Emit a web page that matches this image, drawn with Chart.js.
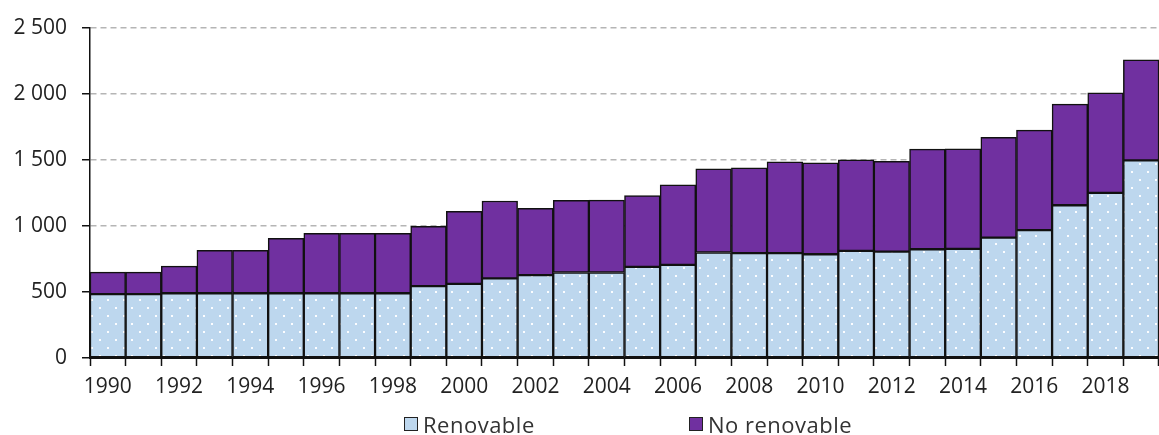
<!DOCTYPE html>
<html>
<head>
<meta charset="utf-8">
<script src="https://cdn.jsdelivr.net/npm/chart.js@4/dist/chart.umd.min.js"></script>
<style>
  body { margin: 0; background: #fff; }
  #wrap { position: relative; width: 1159px; height: 435px; }
  .lg { position: absolute; top: 412px; height: 24px; display: flex; align-items: center;
        font: 22px "Open Sans", sans-serif; letter-spacing: 0.5px; color: #333; line-height: 24px; }
  .lg span.box { width: 14px; height: 14px; border: 1px solid #222; margin-right: 5px; box-sizing: border-box; }
</style>
</head>
<body>
<div id="wrap">
  <canvas id="energyChart"></canvas>
  <div class="lg" style="left:404px"><span class="box" style="background:#bdd7ee"></span>Renovable</div>
  <div class="lg" style="left:689px"><span class="box" style="background:#7030a0"></span>No renovable</div>
</div>
<script>
const years = ['1990','1991','1992','1993','1994','1995','1996','1997','1998','1999',
  '2000','2001','2002','2003','2004','2005','2006','2007','2008','2009',
  '2010','2011','2012','2013','2014','2015','2016','2017','2018','2019'];

// renewable part (bottom of stack)
const renovable = [483, 483, 490, 490, 490, 490, 490, 490, 490, 544,
  561, 602, 627, 647, 647, 690, 705, 798, 793, 793,
  785, 810, 805, 823, 826, 911, 967, 1156, 1249, 1495];

// non-renewable part (top of stack)
const noRenovable = [167, 167, 205, 325, 325, 416, 454, 454, 454, 453,
  549, 586, 506, 546, 548, 539, 606, 634, 646, 692,
  692, 690, 683, 758, 757, 758, 757, 765, 757, 761];

const yTicks = [0, 500, 1000, 1500, 2000, 2500];

// light blue fill with small white dots
function dotPattern() {
  const c = document.createElement('canvas');
  c.width = 16; c.height = 16;
  const g = c.getContext('2d');
  g.fillStyle = '#bdd7ee';
  g.fillRect(0, 0, 16, 16);
  g.fillStyle = 'rgba(255,255,255,0.95)';
  g.fillRect(3, 3, 2, 2);
  g.fillRect(11, 11, 2, 2);
  return g.createPattern(c, 'repeat');
}

function fmt(v) {
  return String(v).replace(/\B(?=(\d{3})+(?!\d))/g, ' ');
}

const tickFont = { family: '"Open Sans", sans-serif', size: 21 };

const ctx = document.getElementById('energyChart').getContext('2d');
new Chart(ctx, {
  type: 'bar',
  data: {
    labels: years,
    datasets: [{
      label: 'Renovable',
      data: renovable,
      backgroundColor: dotPattern(),
      borderColor: '#111',
      borderWidth: 1.5,
      borderSkipped: false,
      barPercentage: 1,
      categoryPercentage: 1
    }, {
      label: 'No renovable',
      data: noRenovable,
      backgroundColor: '#7030a0',
      borderColor: '#111',
      borderWidth: 1.5,
      borderSkipped: false,
      barPercentage: 1,
      categoryPercentage: 1
    }]
  },
  options: {
    responsive: true,
    maintainAspectRatio: false,
    animation: false,
    layout: { padding: { top: 15, right: 0, bottom: 38, left: 0 } },
    scales: {
      x: {
        stacked: true,
        offset: true,
        grid: { offset: true, drawOnChartArea: false, drawTicks: true, tickLength: 8, tickColor: '#111', tickWidth: 1.5 },
        border: { color: '#111', width: 2 },
        ticks: {
          autoSkip: false,
          maxRotation: 0,
          padding: 8,
          font: tickFont,
          color: '#222',
          callback: function (v, i) { return i % 2 === 0 ? this.getLabelForValue(v) : ''; }
        },
        afterFit: s => { s.height = 39; }
      },
      y: {
        stacked: true,
        min: 0,
        max: 2500,
        afterBuildTicks: s => { s.ticks = yTicks.map(v => ({ value: v })); },
        grid: {
          color: c => c.tick && c.tick.value === 0 ? 'rgba(0,0,0,0)' : '#b5b5b5',
          lineWidth: 1.5,
          tickLength: 8,
          tickColor: '#111',
          tickWidth: 1.5,
          tickBorderDash: []
        },
        border: { color: '#111', width: 1.5, dash: [6, 4] },
        ticks: { padding: 15, font: tickFont, color: '#222', callback: v => fmt(v) },
        afterFit: s => { s.width = 90; }
      }
    },
    plugins: {
      legend: { display: false },
      tooltip: { enabled: false }
    }
  }
});
</script>
</body>
</html>
